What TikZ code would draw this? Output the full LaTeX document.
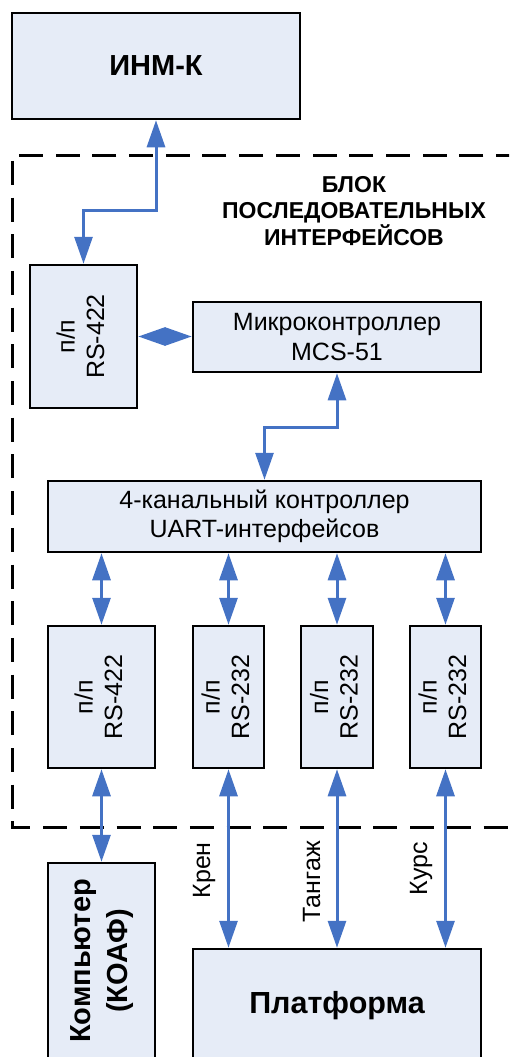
\documentclass[tikz,border=0pt]{standalone}
\usepackage{fontspec}
\setmainfont{Liberation Sans}
\usetikzlibrary{arrows.meta}
\definecolor{boxfill}{RGB}{230,236,247}
\definecolor{connblue}{RGB}{68,114,196}
\begin{document}
\begin{tikzpicture}[x=1pt,y=-1pt,
  box/.style={draw=black, line width=2.5pt, fill=boxfill, inner sep=0pt, align=center},
  conn/.style={draw=connblue, line width=3pt, {Triangle[length=27pt,width=18pt]}-{Triangle[length=27pt,width=18pt]}},
  frame/.style={draw=black, line width=3pt, dash pattern=on 24pt off 12.7pt},
  rfont/.style={font=\fontsize{25}{29.5}\selectfont},
  bfont/.style={font=\fontsize{30}{36}\selectfont\bfseries},
  lbl/.style={font=\fontsize{25}{29}\selectfont, rotate=90, anchor=base east, inner sep=0pt}]
\useasboundingbox (0,0) rectangle (509,1057);
\clip (0,0) rectangle (509,1057);

\draw[frame] (520,155) -- (12,155) -- (12,827) -- (520,827);

\node[box, font=\fontsize{29}{36}\selectfont\bfseries, minimum width=288, minimum height=106] (inm) at (156,66) {ИНМ-К};
\node[font=\fontsize{23}{26.5}\selectfont\bfseries, align=center] (title) at (354,211) {БЛОК\\ПОСЛЕДОВАТЕЛЬНЫХ\\ИНТЕРФЕЙСОВ};
\node[box, rfont, minimum width=107, minimum height=143] (rs1) at (83.5,336.5) {\rotatebox{90}{\begin{tabular}{@{}c@{}}п/п\\RS-422\end{tabular}}};
\node[box, rfont, minimum width=288, minimum height=70] (mc) at (337,337) {Микроконтроллер\\MCS-51};
\node[box, rfont, minimum width=433, minimum height=71] (uart) at (264.5,516.5) {4-канальный контроллер\\UART-интерфейсов};
\node[box, rfont, minimum width=107, minimum height=142] (p1) at (101.5,697) {\rotatebox{90}{\begin{tabular}{@{}c@{}}п/п\\RS-422\end{tabular}}};
\node[box, rfont, minimum width=71, minimum height=142] (p2) at (228.5,697) {\rotatebox{90}{\begin{tabular}{@{}c@{}}п/п\\RS-232\end{tabular}}};
\node[box, rfont, minimum width=72, minimum height=142] (p3) at (337,697) {\rotatebox{90}{\begin{tabular}{@{}c@{}}п/п\\RS-232\end{tabular}}};
\node[box, rfont, minimum width=71, minimum height=142] (p4) at (445.5,697) {\rotatebox{90}{\begin{tabular}{@{}c@{}}п/п\\RS-232\end{tabular}}};
\node[box, font=\fontsize{29}{37}\selectfont\bfseries, minimum width=107, minimum height=196] (comp) at (101.5,961) {\rotatebox{90}{\begin{tabular}{@{}c@{}}Компьютер\\(КОАФ)\end{tabular}}};
\node[box, font=\fontsize{30.5}{36}\selectfont\bfseries, minimum width=288, minimum height=180, text depth=73pt] (plat) at (337,1039) {Платформа};

\draw[conn] (inm.south) -- ++(0,90) -| (rs1.north);
\draw[conn] (rs1.east) -- (rs1.east -| mc.west);
\draw[conn] (mc.south) -- ++(0,54) -| (uart.north);
\foreach \p in {p1,p2,p3,p4} {\draw[conn] (\p.north |- uart.south) -- (\p.north);}
\draw[conn] (p1.south) -- (comp.north);
\foreach \p in {p2,p3,p4} {\draw[conn] (\p.south) -- (\p.south |- plat.north);}

\node[lbl] (kren) at (210,842) {Крен};
\node[lbl] (tang) at (320,841) {Тангаж};
\node[lbl] (kurs) at (427,842) {Курс};
\end{tikzpicture}
\end{document}
